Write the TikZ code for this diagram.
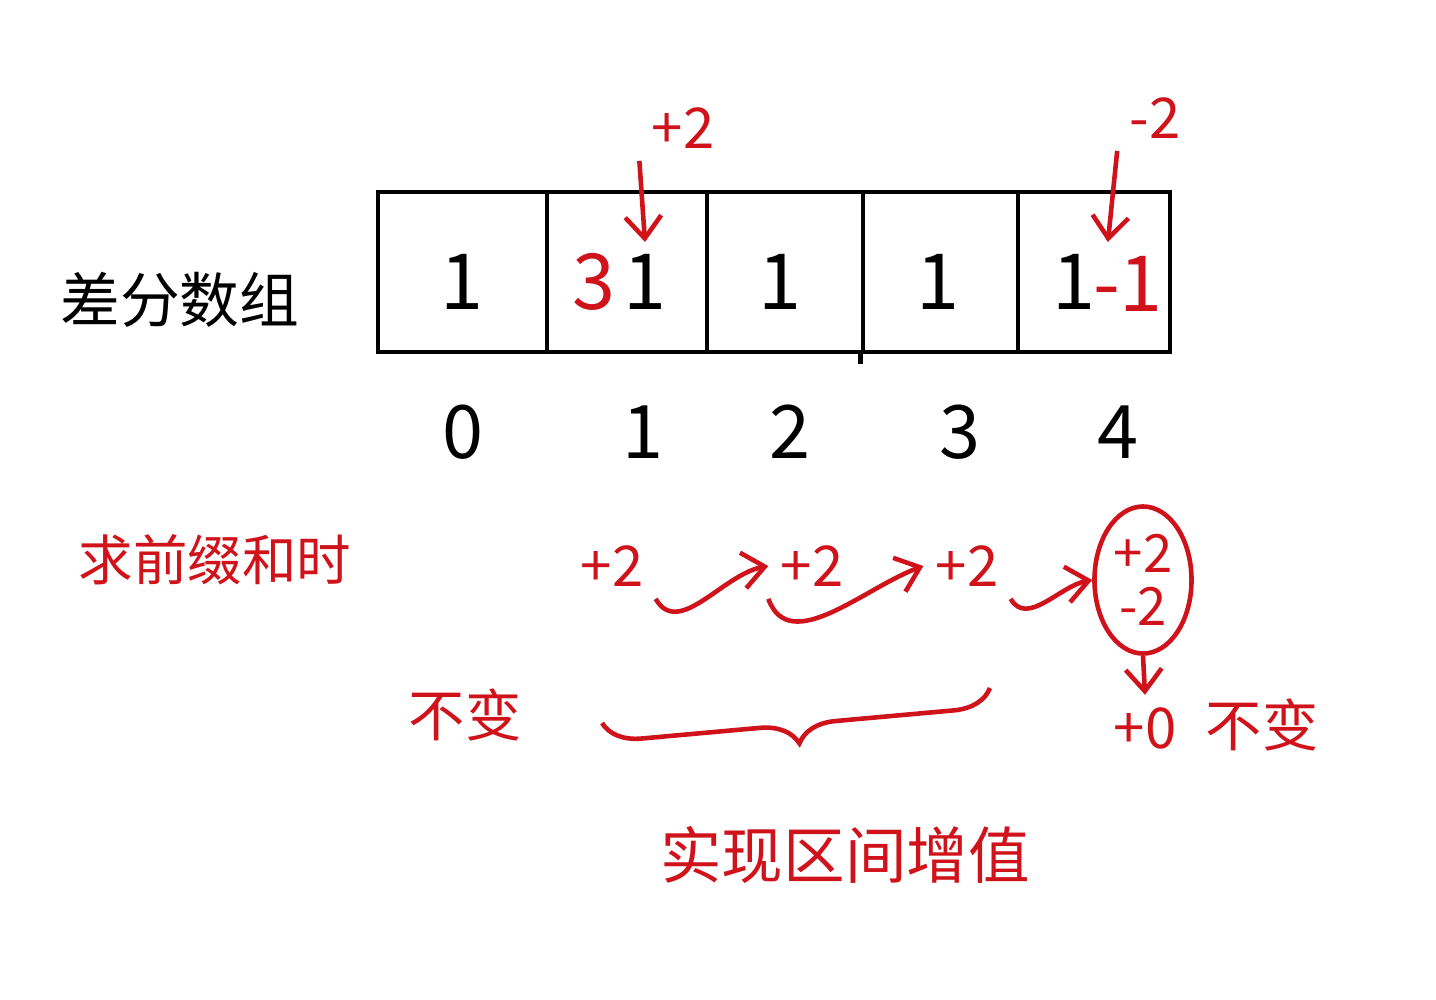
\documentclass[tikz,border=0pt]{standalone}
\usepackage{fontspec}
\setmainfont{Noto Sans CJK SC}
\usetikzlibrary{shapes.geometric,decorations.pathreplacing,positioning,arrows.meta}
\definecolor{pen}{RGB}{208,18,26}
\tikzset{
  cell/.style={draw, line width=1.3pt, minimum height=1.6cm, inner sep=0pt},
  big/.style={font=\fontsize{22}{26}\selectfont},
  idx/.style={font=\fontsize{21}{24}\selectfont},
  note/.style={text=pen, font=\fontsize{16}{19}\selectfont},
  redline/.style={pen, line width=1.3pt, -{Straight Barb[length=2.2mm, width=3.6mm]}},
}
\begin{document}
\begin{tikzpicture}[x=0.01cm, y=0.01cm]
  \useasboundingbox (0,0) rectangle (1436,-999);
  % the difference array
  \foreach \i/\l/\r in {0/378/547, 1/547/707, 2/707/863, 3/863/1018, 4/1018/1170}{
    \node[cell, minimum width={(\r-\l)*0.01cm}] (C\i) at ({(\l+\r)/2}, -272) {};
  }
  \draw[line width=1.3pt] (C3.south west) -- ++(0,-10);
  \foreach \i/\x in {0/462, 1/645, 2/780, 3/938, 4/1074}{
    \node[big] (V\i) at (\x, -282) {1};
  }
  \foreach \i/\x in {0/463, 1/643, 2/790, 3/960, 4/1118}{
    \node[idx] (I\i) at (\x, -432) {\i};
  }
  \node[big, text=pen] (R1) at (594, -282) {3};
  \node[big, text=pen] (R4) at (1128, -284) {-1};
  \node[font=\fontsize{17}{20}\selectfont] (D) at (180, -300) {差分数组};
  % the two updates
  \node[note] (T1) at (683, -128) {+2};
  \node[note] (T4) at (1155, -118) {-2};
  \draw[redline] (T1.south west) -- (V1.north);
  \draw[redline] (T4.south west) -- (V4.north east);
  % prefix sums
  \node[note, font=\fontsize{15.5}{18}\selectfont] (Q) at (215, -560) {求前缀和时};
  \foreach \i/\x in {1/612, 2/812, 3/967}{
    \node[note] (P\i) at (\x, -566) {+2};
  }
  \node[note, draw=pen, line width=1.3pt, ellipse, inner sep=0pt, minimum width=0.97cm,
        minimum height=1.47cm, align=center, font=\fontsize{15}{15}\selectfont] (E) at (1143, -580) {+2\\-2};
  \draw[redline] (P1.south east) to[out=-60, in=190] (P2.west);
  \draw[redline] (P2.south west) to[out=-70, in=200] (P3.west);
  \draw[redline] (P3.south east) to[out=-60, in=190] (E.west);
  \node[note] (Z) at (1145, -728) {+0};
  \node[note] (B2) at (1262, -725) {不变};
  \draw[redline] (E.south) -- (Z.north);
  \node[note] (B1) at (465, -715) {不变};
  % range increase
  \coordinate (bl) at (602, -723);
  \coordinate (br) at (990, -688);
  \draw[pen, line width=1.3pt, decorate, decoration={brace, mirror, amplitude=0.38cm}] (bl) -- (br);
  \node[note, font=\fontsize{17.5}{21}\selectfont] (S) at (845, -855) {实现区间增值};
\end{tikzpicture}
\end{document}
